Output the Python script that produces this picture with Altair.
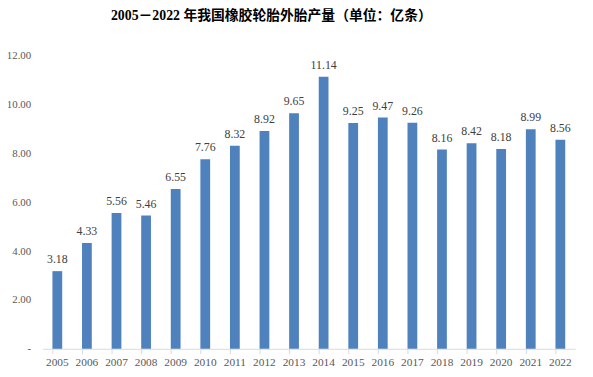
import altair as alt
import pandas as pd

years = [str(y) for y in range(2005, 2023)]
values = [3.18, 4.33, 5.56, 5.46, 6.55, 7.76, 8.32, 8.92, 9.65, 11.14,
          9.25, 9.47, 9.26, 8.16, 8.42, 8.18, 8.99, 8.56]
title_text = "2005－2022 年我国橡胶轮胎外胎产量（单位：亿条）"

df = pd.DataFrame({"year": years, "value": values})

serif = "Liberation Serif"
title_font = "Liberation Serif, Noto Sans CJK SC"

base = alt.Chart(df)

x = alt.X("year:N", sort=years, title=None,
          scale=alt.Scale(paddingInner=0.67, paddingOuter=0.335),
          axis=alt.Axis(labelAngle=0, labelFont=serif, labelFontSize=11.5,
                        labelColor="#595959", domainColor="#D9D9D9",
                        tickColor="#D9D9D9", tickSize=5, bandPosition=0,
                        labelPadding=3, ticks=True, grid=False))

y = alt.Y("value:Q", title=None,
          scale=alt.Scale(domain=[0, 12], nice=False),
          axis=alt.Axis(values=[0, 2, 4, 6, 8, 10, 12],
                        labelExpr="datum.value == 0 ? '-\u00a0\u00a0\u00a0' : format(datum.value, '.2f')",
                        labelFont=serif, labelFontSize=11, labelColor="#595959",
                        domain=False, ticks=False, grid=False, labelPadding=12))

bars = base.mark_bar(color="#4F81BD").encode(x=x, y=y)

labels = base.mark_text(baseline="bottom", dy=-5, font=serif, fontSize=12,
                        color="#404040").encode(
    x=alt.X("year:N", sort=years),
    y="value:Q",
    text=alt.Text("value:Q", format=".2f"))

chart = (bars + labels).properties(
    width=540, height=297,
    title=alt.TitleParams(title_text, font=title_font, fontSize=14, fontWeight="bold",
                          color="#000000", anchor="middle", dx=-38, offset=27),
    autosize=alt.AutoSizeParams(type="none"),
    padding={"left": 35, "top": 46, "right": 10, "bottom": 20},
).configure_view(stroke=None)

chart.save("out.html", embed_options={"renderer": "svg", "actions": False})
